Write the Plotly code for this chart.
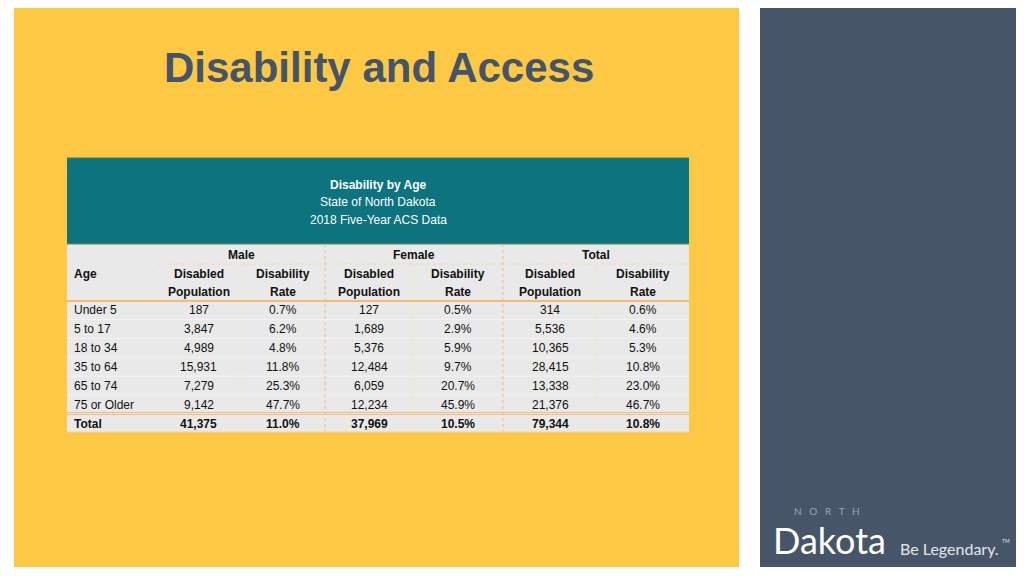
import plotly.graph_objects as go

# ---------------- data ----------------
title_text = "Disability and Access"
table_title = "Disability by Age"
table_sub1 = "State of North Dakota"
table_sub2 = "2018 Five-Year ACS Data"
groups = ["Male", "Female", "Total"]
sub_headers_1 = ["Disabled", "Disability"]
sub_headers_2 = ["Population", "Rate"]
ages = ["Under 5", "5 to 17", "18 to 34", "35 to 64", "65 to 74", "75 or Older"]
male_pop = ["187", "3,847", "4,989", "15,931", "7,279", "9,142"]
male_rate = ["0.7%", "6.2%", "4.8%", "11.8%", "25.3%", "47.7%"]
female_pop = ["127", "1,689", "5,376", "12,484", "6,059", "12,234"]
female_rate = ["0.5%", "2.9%", "5.9%", "9.7%", "20.7%", "45.9%"]
total_pop = ["314", "5,536", "10,365", "28,415", "13,338", "21,376"]
total_rate = ["0.6%", "4.6%", "5.3%", "10.8%", "23.0%", "46.7%"]
total_row = ["Total", "41,375", "11.0%", "37,969", "10.5%", "79,344", "10.8%"]

# ---------------- layout constants ----------------
YELLOW = "#FDC843"
SLATE = "#465668"
TEAL = "#0C737F"
BODY = "#E9E9E9"
ORANGE = "#F5B97A"
FONT = "Liberation Sans, Arial, sans-serif"
LOGO_FONT = "Lato, Noto Sans, sans-serif"

col_edges = [67, 157, 240, 325, 413, 503, 597, 689]
tbl_top, teal_bottom, tbl_bottom = 158, 244, 432
row_y0, row_h = 310, 18.9

fig = go.Figure()
fig.add_trace(go.Scatter(x=[8, 1032], y=[8, 584], mode="markers",
                         marker=dict(opacity=0), hoverinfo="skip", showlegend=False))

shapes = []
def rect(x0, y0, x1, y1, color, line=None):
    shapes.append(dict(type="rect", xref="x", yref="y", x0=x0, y0=y0, x1=x1, y1=y1,
                       fillcolor=color, line=line or dict(width=0), layer="below"))
def hline(y, x0, x1, color, width=1, dash="solid"):
    shapes.append(dict(type="line", xref="x", yref="y", x0=x0, x1=x1, y0=y, y1=y,
                       line=dict(color=color, width=width, dash=dash)))
def vline(x, y0, y1, color, width=1, dash="solid"):
    shapes.append(dict(type="line", xref="x", yref="y", x0=x, x1=x, y0=y0, y1=y1,
                       line=dict(color=color, width=width, dash=dash)))

# backgrounds
rect(14, 8, 739, 567, YELLOW)
rect(760, 8, 1016, 567, SLATE)
# table
rect(col_edges[0], teal_bottom, col_edges[-1], tbl_bottom, BODY)
rect(col_edges[0], tbl_top, col_edges[-1], teal_bottom, TEAL)
hline(tbl_top, col_edges[0], col_edges[-1], "#4E7D45", 1)
hline(teal_bottom, col_edges[0], col_edges[-1], "#6F8F55", 1)

# row separators
n = len(ages)
for i in range(1, n):
    hline(row_y0 - row_h / 2 + i * row_h, col_edges[0], col_edges[-1], "#F4F4F4", 1)
# faint sub-column separators
for x in [col_edges[2], col_edges[4], col_edges[6]]:
    vline(x, 264, tbl_bottom, "#F3E6C8", 1)
# group dotted lines
for x in [col_edges[3], col_edges[5]]:
    vline(x, teal_bottom, tbl_bottom, ORANGE, 1, "dot")
hline(264, col_edges[1], col_edges[-1], "#EFD9A8", 1, "dot")
# orange rules
hline(301, col_edges[0], col_edges[-1], ORANGE, 2)
total_y = row_y0 + n * row_h
hline(total_y - row_h / 2 - 1.5, col_edges[0], col_edges[-1], ORANGE, 1)
hline(total_y - row_h / 2 + 0.5, col_edges[0], col_edges[-1], ORANGE, 1)
hline(tbl_bottom, col_edges[0], col_edges[-1], "#F3D79A", 1)

ann = []
def text(x, y, s, size=12, color="#111111", bold=False, xanchor="center", family=FONT):
    ann.append(dict(x=x, y=y, xref="x", yref="y", text=f"<b>{s}</b>" if bold else s,
                    showarrow=False, xanchor=xanchor, yanchor="middle",
                    font=dict(size=size, color=color, family=family)))

# title
text(379, 67, title_text, size=42, color="#44546A", bold=True,
     family="Liberation Sans Narrow, Arial Narrow, Liberation Sans, sans-serif")

# table header
cx = (col_edges[0] + col_edges[-1]) / 2
text(cx, 185, table_title, size=12, color="white", bold=True)
text(cx, 202, table_sub1, size=12, color="white")
text(cx, 220, table_sub2, size=12, color="white")

centers = [(col_edges[i] + col_edges[i + 1]) / 2 for i in range(len(col_edges) - 1)]
for g, name in enumerate(groups):
    text((col_edges[1 + 2 * g] + col_edges[3 + 2 * g]) / 2, 255, name, bold=True)
text(72, 274, "Age", bold=True, xanchor="left")
for c in range(1, 7):
    text(centers[c], 274, sub_headers_1[(c - 1) % 2], bold=True)
    text(centers[c], 292, sub_headers_2[(c - 1) % 2], bold=True)

cols = [male_pop, male_rate, female_pop, female_rate, total_pop, total_rate]
for i, a in enumerate(ages):
    y = row_y0 + i * row_h
    text(72, y, a, xanchor="left")
    for c, vals in enumerate(cols):
        text(centers[c + 1], y, vals[i])
text(72, total_y + 0.5, total_row[0], bold=True, xanchor="left")
for c in range(1, 7):
    text(centers[c], total_y + 0.5, total_row[c], bold=True)

# logo
text(827, 511, "N   O   R   T   H", size=10, color="#9AA4B0", family=LOGO_FONT)
text(829, 540, "Dakota", size=36, color="white", family=LOGO_FONT)
text(949, 548, "Be Legendary.", size=16, color="#E3E6EA", family=LOGO_FONT)
text(1006, 541, "TM", size=5, color="#E3E6EA", family=LOGO_FONT)

fig.update_layout(
    width=1024, height=576, margin=dict(l=0, r=0, t=0, b=0),
    paper_bgcolor="white", plot_bgcolor="white",
    xaxis=dict(range=[8, 1032], visible=False, fixedrange=True),
    yaxis=dict(range=[584, 8], visible=False, fixedrange=True),
    shapes=shapes, annotations=ann, showlegend=False,
)
fig.write_html("out.html")
